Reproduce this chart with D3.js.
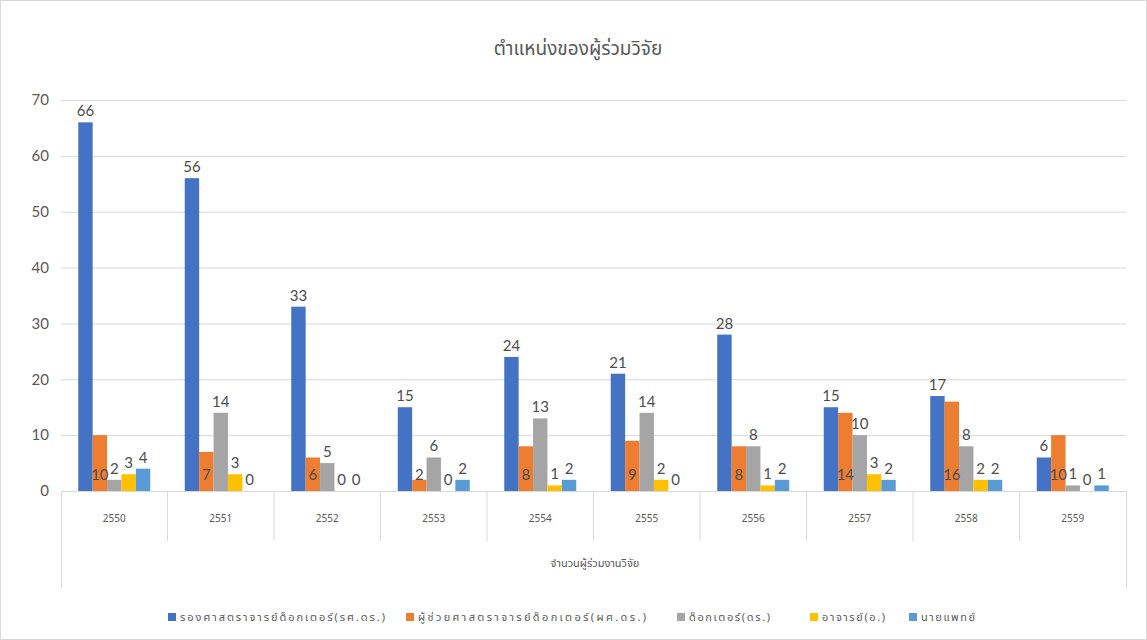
<!DOCTYPE html>
<html>
<head>
<meta charset="utf-8">
<script src="https://cdn.jsdelivr.net/npm/d3@7"></script>
<style>
  html, body { margin: 0; padding: 0; background: #fff; }
  svg { display: block; font-family: "Noto Sans Thai", "Noto Sans", Lato, sans-serif; }
</style>
</head>
<body>
<svg id="chart" width="1147" height="640"></svg>
<script>
// Research participants by academic position, per year (B.E.)
const years = ["2550", "2551", "2552", "2553", "2554", "2555", "2556", "2557", "2558", "2559"];
const seriesNames = [
  "รองศาสตราจารย์ด็อกเตอร์(รศ.ดร.)",
  "ผู้ช่วยศาสตราจารย์ด็อกเตอร์(ผศ.ดร.)",
  "ด็อกเตอร์(ดร.)",
  "อาจารย์(อ.)",
  "นายแพทย์"
];
const assocProfDr = [66, 56, 33, 15, 24, 21, 28, 15, 17, 6];
const asstProfDr  = [10, 7, 6, 2, 8, 9, 8, 14, 16, 10];
const doctor      = [2, 14, 5, 6, 13, 14, 8, 10, 8, 1];
const lecturer    = [3, 3, 0, 0, 1, 2, 1, 3, 2, 0];
const physician   = [4, 0, 0, 2, 2, 0, 2, 2, 2, 1];
const yTicks = [0, 10, 20, 30, 40, 50, 60, 70];

const chartTitle = "ตำแหน่งของผู้ร่วมวิจัย";
const axisTitle = "จำนวนผู้ร่วมงานวิจัย";

const seriesValues = [assocProfDr, asstProfDr, doctor, lecturer, physician];
const colors = ["#4472C4", "#ED7D31", "#A5A5A5", "#FFC000", "#5B9BD5"];
// label placement per series: "end" = above the bar, "base" = inside near the base
const labelPos = ["end", "base", "end", "end", "end"];

const svg = d3.select("#chart");
const W = 1147, H = 640;
const plot = { left: 61, right: 1126, top: 100, bottom: 491 };

// chart frame
svg.append("rect")
  .attr("x", 0.5).attr("y", 0.5)
  .attr("width", W - 1).attr("height", H - 1)
  .attr("fill", "#fff").attr("stroke", "#d9d9d9");

// title
svg.append("text")
  .attr("x", 578).attr("y", 55)
  .attr("text-anchor", "middle")
  .attr("font-size", 19)
  .attr("fill", "#595959")
  .text(chartTitle);

const y = d3.scaleLinear().domain([0, 70]).range([plot.bottom, plot.top]);
const x0 = d3.scaleBand().domain(years).range([plot.left, plot.right])
  .paddingInner(0.324).paddingOuter(0.162);
const x1 = d3.scaleBand().domain(d3.range(seriesNames.length))
  .range([0, x0.bandwidth()]);

// gridlines
const gridAxis = d3.axisLeft(y).tickValues(yTicks).tickSize(-(plot.right - plot.left)).tickFormat(d => d);
const gy = svg.append("g").attr("transform", `translate(${plot.left},0)`).call(gridAxis);
gy.select(".domain").remove();
gy.selectAll(".tick line").attr("stroke", "#d9d9d9").attr("stroke-width", 1);
gy.selectAll(".tick text")
  .attr("x", -12)
  .attr("font-size", 15)
  .attr("fill", "#595959")
  .attr("font-family", "Lato, 'Noto Sans', sans-serif");

// bars
const groups = svg.append("g").selectAll("g")
  .data(years)
  .join("g")
  .attr("transform", d => `translate(${x0(d)},0)`);

groups.selectAll("rect")
  .data((yr, i) => seriesValues.map((vals, s) => ({ s, v: vals[i] })))
  .join("rect")
  .attr("x", d => x1(d.s))
  .attr("width", x1.bandwidth())
  .attr("y", d => y(d.v))
  .attr("height", d => y(0) - y(d.v))
  .attr("fill", d => colors[d.s]);

// data labels
groups.selectAll("text")
  .data((yr, i) => seriesValues.map((vals, s) => ({ s, v: vals[i] })))
  .join("text")
  .attr("x", d => x1(d.s) + x1.bandwidth() / 2)
  .attr("y", d => labelPos[d.s] === "base" ? y(0) - 11 : y(d.v) - 6)
  .attr("text-anchor", "middle")
  .attr("font-size", 15)
  .attr("fill", "#4d4d4d")
  .attr("font-family", "Lato, 'Noto Sans', sans-serif")
  .text(d => d.v);

// baseline
svg.append("line")
  .attr("x1", plot.left).attr("x2", plot.right)
  .attr("y1", y(0) + 0.5).attr("y2", y(0) + 0.5)
  .attr("stroke", "#d9d9d9");

// category separators (first level)
const step = x0.step();
const seps = d3.range(years.length + 1).map(i => plot.left + i * step);
svg.append("g").selectAll("line")
  .data(seps.slice(1, -1))
  .join("line")
  .attr("x1", d => d).attr("x2", d => d)
  .attr("y1", y(0)).attr("y2", 541)
  .attr("stroke", "#d9d9d9");

// outer edges of the grouped axis
svg.append("g").selectAll("line")
  .data([plot.left, plot.right])
  .join("line")
  .attr("x1", d => d + 0.5).attr("x2", d => d + 0.5)
  .attr("y1", y(0)).attr("y2", 588)
  .attr("stroke", "#d9d9d9");

// year labels
svg.append("g").selectAll("text")
  .data(years)
  .join("text")
  .attr("x", d => x0(d) + x0.bandwidth() / 2)
  .attr("y", 522)
  .attr("text-anchor", "middle")
  .attr("font-size", 10)
  .attr("fill", "#595959")
  .text(d => d);

// group label
svg.append("text")
  .attr("x", 595).attr("y", 567)
  .attr("text-anchor", "middle")
  .attr("font-size", 11)
  .attr("fill", "#595959")
  .text(axisTitle);

// legend
const legendX = [168, 406, 677, 810, 909];
const legendLen = [205, 228, 81, 63, 54];
const legend = svg.append("g").selectAll("g")
  .data(seriesNames)
  .join("g")
  .attr("transform", (d, i) => `translate(${legendX[i]},618)`);
legend.append("rect")
  .attr("x", 0).attr("y", -5)
  .attr("width", 8).attr("height", 8)
  .attr("fill", (d, i) => colors[i]);
legend.append("text")
  .attr("x", 12).attr("y", 3)
  .attr("font-size", 11)
  .attr("fill", "#595959")
  .attr("textLength", (d, i) => legendLen[i])
  .attr("lengthAdjust", "spacing")
  .text(d => d);
</script>
</body>
</html>
